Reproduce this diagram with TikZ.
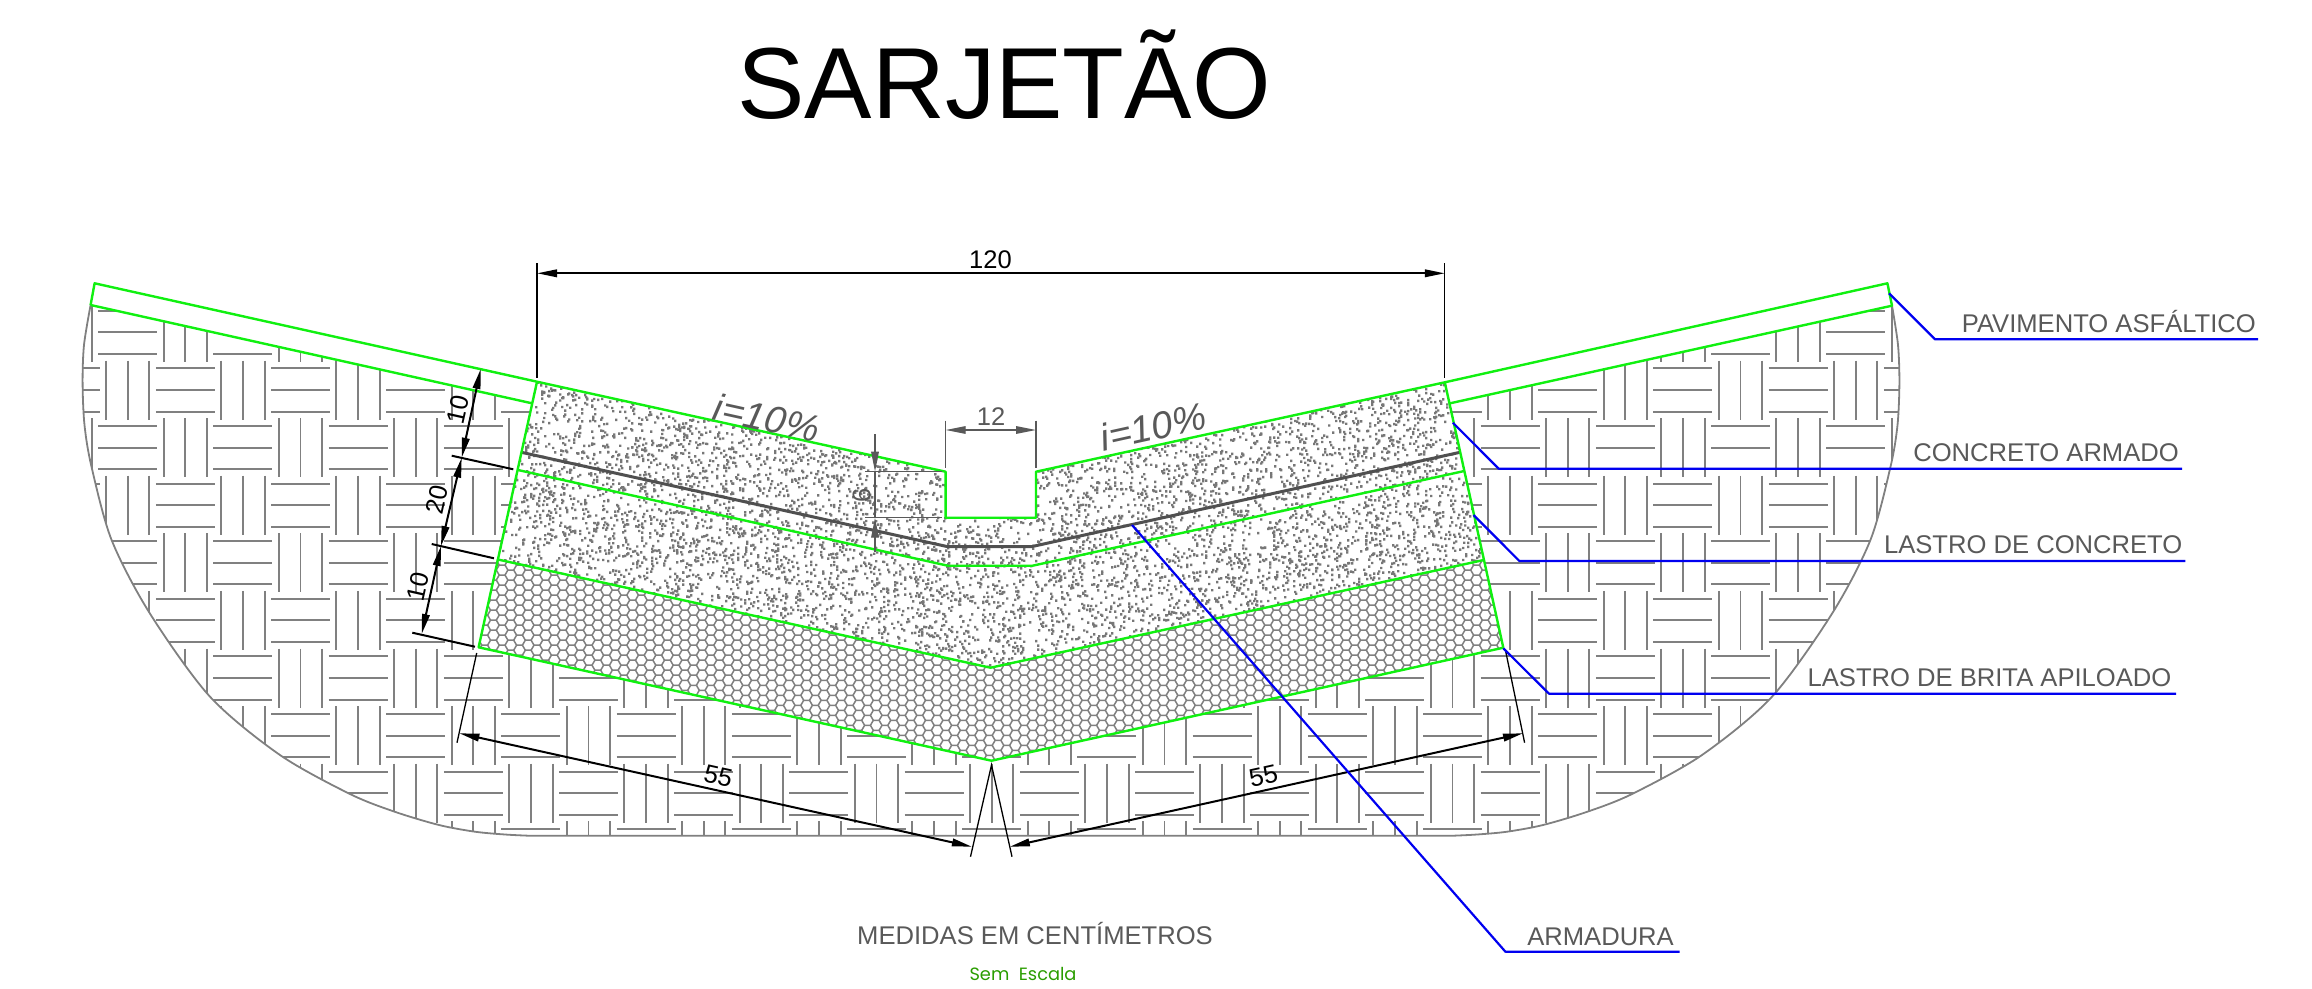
\documentclass[tikz,border=0pt]{standalone}
\usepackage{fontspec}
\setmainfont{Liberation Sans}
\newfontfamily\scalefont{Poppins}
\usetikzlibrary{arrows.meta,calc}
\definecolor{hatchgray}{HTML}{808080}
\definecolor{labelgray}{HTML}{595959}
\definecolor{dotgray}{HTML}{777777}
\definecolor{layergreen}{HTML}{10F010}
\definecolor{leaderblue}{HTML}{0000F0}
\definecolor{notegreen}{HTML}{2A9D00}
\newcommand{\soilleft}{(90.6,305)(84,345)(82.6,383)(84.5,425)(91.5,466.7)(111.6,540)(149.6,613)(210,696.7)(280,755)(350,794)(394.6,811.7)(439,825)(475,831.7)(505,834.5)(528.6,835.7)}
\newcommand{\soilright}{(1453.4,835.7)(1477,834.5)(1507,831.7)(1543,825)(1587.4,811.7)(1632,794)(1702,755)(1772,696.7)(1832.4,613)(1870.4,540)(1890.5,466.7)(1897.5,425)(1899.4,383)(1898,345)(1892,305.7)}
\tikzset{
  hatchline/.style={draw=hatchgray,line width=1.9pt},
  hexline/.style={draw=hatchgray,line width=1.5pt},
  layerline/.style={draw=layergreen,line width=2.4pt,line join=round},
  leader/.style={draw=leaderblue,line width=2.2pt,line join=round},
  dimline/.style={draw=black,line width=2pt,{Triangle[length=20pt,width=7.5pt]}-{Triangle[length=20pt,width=7.5pt]}},
  extline/.style={draw=black,line width=1.3pt},
  tickline/.style={draw=black,line width=2pt},
  graydim/.style={draw=labelgray,line width=1.4pt},
  graytip/.style={draw=labelgray,line width=1.4pt,-{Triangle[length=20pt,width=7.5pt]}},
  blackdigit/.style={text=black,font=\fontsize{25.5}{30}\selectfont,inner sep=0pt},
  graydigit/.style={text=labelgray,font=\fontsize{25.5}{30}\selectfont,inner sep=0pt},
  slopelabel/.style={text=labelgray,font=\itshape\fontsize{38}{42}\selectfont,inner sep=0pt},
  calllabel/.style={text=labelgray,font=\fontsize{25.6}{30}\selectfont,inner sep=0pt},
}
\begin{document}
\begin{tikzpicture}[x=1pt,y=-1pt]
\useasboundingbox (0,0) rectangle (2312,988);
% key points
\coordinate (pTL) at (94.6,283.3);
\coordinate (pBL) at (90.6,305);
\coordinate (cTL) at (537,381.7);
\coordinate (pML) at (532,403.3);
\coordinate (lL) at (518,470);
\coordinate (bL) at (497,559.3);
\coordinate (eL) at (478.6,647.3);
\coordinate (nTL) at (945.6,471.7);
\coordinate (nBL) at (945.6,517.7);
\coordinate (nBR) at (1036,517.7);
\coordinate (nTR) at (1036,471.7);
\coordinate (cTR) at (1444.8,382.3);
\coordinate (pMR) at (1450,403.3);
\coordinate (lR) at (1464.3,471);
\coordinate (bR) at (1483.8,560);
\coordinate (eR) at (1503.3,647.7);
\coordinate (pTR) at (1887.4,283.3);
\coordinate (pBR) at (1892,305.7);
\coordinate (bC) at (990.5,667.7);
\coordinate (eC) at (991.5,760.7);
\coordinate (aL) at (521.4,452.3);
\coordinate (a1) at (947.8,546.7);
\coordinate (a2) at (1031.3,546.7);
\coordinate (aR) at (1460,452.3);
\coordinate (lM1) at (947.8,565.7);
\coordinate (lM2) at (1032.6,565.7);
% soil hatch
\begin{scope}
\clip plot[smooth,tension=.5] coordinates {\soilleft} -- plot[smooth,tension=.5] coordinates {\soilright} -- (pBR) -- (pMR) -- (pML) -- (pBL) -- cycle;
\foreach \i in {-1,...,31}{
  \foreach \j in {-1,...,9}{
    \pgfmathsetmacro{\cx}{127.7+57.6*\i}
    \pgfmathsetmacro{\cy}{332.4+57.6*\j}
    \pgfmathtruncatemacro{\tilepar}{mod(abs(\i+\j),2)}
    \ifnum\tilepar=0
      \draw[hatchline] (\cx-29.5,\cy-21.6) -- (\cx+29.5,\cy-21.6) (\cx-29.5,\cy) -- (\cx+29.5,\cy) (\cx-29.5,\cy+21.6) -- (\cx+29.5,\cy+21.6);
    \else
      \draw[hatchline] (\cx-21.7,\cy-29.5) -- (\cx-21.7,\cy+29.5) (\cx,\cy-29.5) -- (\cx,\cy+29.5) (\cx+21.7,\cy-29.5) -- (\cx+21.7,\cy+29.5);
    \fi
  }
}
\end{scope}
\draw[hatchline,line width=1.8pt] plot[smooth,tension=.5] coordinates {\soilleft} -- plot[smooth,tension=.5] coordinates {\soilright};
% white body
\fill[white] (pTL) -- (cTL) -- (cTR) -- (pTR) -- (pBR) -- (pMR) -- (eR) -- (eC) -- (eL) -- (pML) -- (pBL) -- cycle;
% concrete stipple
\begin{scope}
\clip (cTL) -- (nTL) -- (nBL) -- (nBR) -- (nTR) -- (cTR) -- (bR) -- (bC) -- (bL) -- cycle;
\pgfsetfillcolor{dotgray}
\pgfmathsetseed{7}
\foreach \b in {1,...,70}{
  \foreach \k in {1,...,100}{
    \pgfmathrandominteger{\px}{480}{1500}
    \pgfmathrandominteger{\pd}{0}{190}
    \pgfmathsetmacro{\py}{481-0.2205*abs(\px-991)+\pd}
    \pgfpathrectangle{\pgfqpoint{\px pt}{-\py pt}}{\pgfqpoint{2.4pt}{2.4pt}}
  }
  \pgfusepath{fill}
}
\end{scope}
% crushed stone hexagons
\begin{scope}
\clip (bL) -- (bC) -- (bR) -- (eR) -- (eC) -- (eL) -- cycle;
\foreach \i in {0,...,120}{
  \pgfmathtruncatemacro{\colodd}{mod(\i,2)}
  \pgfmathsetmacro{\hx}{476+8.7*\i}
  \pgfmathsetmacro{\hy}{555+10.02*round((667.7-0.2205*abs(\hx-991)-10-555)/10.02)+5*\colodd}
  \draw[hexline] \foreach \j in {0,...,11} { (\hx-5.8,\hy+10.02*\j) -- ++(2.9,-5.01) -- ++(5.8,0) -- ++(2.9,5.01) };
}
\end{scope}
% reinforcement
\draw[draw=labelgray!90!black,line width=3pt,line join=round] (aL) -- (a1) -- (a2) -- (aR);
% green layer lines
\draw[extline,line width=1pt] (480.7,369) -- (cTL);
\draw[layerline] (pBL) -- (pTL) -- (cTL) -- (nTL) -- (nBL) -- (nBR) -- (nTR) -- (cTR) -- (pTR) -- (pBR) -- (pMR);
\draw[layerline] (pBL) -- (pML);
\draw[layerline] (cTL) -- (eL) -- (eC) -- (eR) -- (cTR);
\draw[layerline] (lL) -- (lM1) -- (lM2) -- (lR);
\draw[layerline] (bL) -- (bC) -- (bR);
% top dimension 120
\coordinate (d120a) at (537,273.3);
\coordinate (d120b) at (1444.8,273.3);
\draw[extline] (537,263) -- (537,377.7);
\draw[extline] (1444.8,263) -- (1444.8,377.7);
\draw[dimline] (d120a) -- (d120b);
\node[blackdigit] (t120) at (990.5,259.5) {120};
% left stacked dimensions
\coordinate (s0) at (480.7,369);
\coordinate (s1) at (461.7,457.7);
\coordinate (s2) at (441,546);
\coordinate (s3) at (421.7,634);
\draw[tickline] (451.7,455.7) -- (513.3,469.3);
\draw[tickline] (431.7,544) -- (494,558.3);
\draw[tickline] (412.3,632.7) -- (475,646.7);
\draw[dimline] (s0) -- (s1);
\draw[dimline] (s1) -- (s2);
\draw[dimline] (s2) -- (s3);
\node[blackdigit,rotate=77.4] (t10a) at (458.3,409.3) {10};
\node[blackdigit,rotate=77.4] (t20) at (437.3,499.3) {20};
\node[blackdigit,rotate=77.4] (t10b) at (418.3,586.7) {10};
% bottom dimensions
\coordinate (b1) at (459.4,733.3);
\coordinate (b2) at (971.9,846.7);
\coordinate (b3) at (1009.8,846.7);
\coordinate (b4) at (1523,733.3);
\coordinate (apex) at (991.5,765);
\draw[extline] (476.7,653) -- (457,742.7);
\draw[extline] (1505.4,650) -- (1524.6,742.7);
\draw[extline] (970.5,856.7) -- (apex) -- (1012,856.7);
\draw[dimline] (b1) -- (b2);
\draw[dimline] (b3) -- (b4);
\node[blackdigit,rotate=-12.5] (t55a) at (718.3,776) {55};
\node[blackdigit,rotate=12.5] (t55b) at (1263.4,776) {55};
% gutter dimensions
\draw[graydim] (945.7,420.7) -- (945.7,468);
\draw[graydim] (1036,420.7) -- (1036,468);
\draw[graydim,{Triangle[length=20pt,width=7.5pt]}-{Triangle[length=20pt,width=7.5pt]}] (945.7,430) -- (1036,430);
\node[graydigit] (t12) at (991,417) {12};
\draw[graydim] (865,471.7) -- (941.7,471.7);
\draw[graydim] (865,517.7) -- (941.7,517.7);
\draw[graydim] (875,471.7) -- (875,517.7);
\draw[graytip] (875,434) -- (875,471.7);
\draw[graytip] (875,551.7) -- (875,517.7);
\node[graydigit,rotate=90] (t6) at (861.7,495) {6};
% slopes
\node[slopelabel,rotate=-12.4] (iL) at (767,418) {i=10\%};
\node[slopelabel,rotate=12.4] (iR) at (1153,426.7) {i=10\%};
% leaders
\draw[leader] (1889,293.3) -- (1935,339.3) -- (2258.2,339.3);
\draw[leader] (1452.8,422.7) -- (1498.7,468.7) -- (2182,468.7);
\draw[leader] (1473.5,515) -- (1519.4,561) -- (2185.3,561);
\draw[leader] (1503.3,648.3) -- (1549,693.7) -- (2176,693.7);
\draw[leader] (1132,525) -- (1505.4,951.7) -- (1679.5,951.7);
% labels
\node[calllabel,anchor=base east] (lbPav) at (2256,332.7) {PAVIMENTO ASFÁLTICO};
\node[calllabel,anchor=base east] (lbCon) at (2179,461.7) {CONCRETO ARMADO};
\node[calllabel,anchor=base east] (lbLas) at (2182.5,553.3) {LASTRO DE CONCRETO};
\node[calllabel,anchor=base east] (lbBri) at (2171.5,686.7) {LASTRO DE BRITA APILOADO};
\node[calllabel,anchor=base east] (lbArm) at (1674,945) {ARMADURA};
\node[calllabel,anchor=base] (lbMed) at (1035,944.3) {MEDIDAS EM CENTÍMETROS};
\node[text=notegreen,font=\scalefont\fontsize{17.8}{20}\selectfont,inner sep=0pt,anchor=base] (lbSem) at (1023,980) {Sem\ \ Escala};
\node[font=\fontsize{101}{110}\selectfont,inner sep=0pt,anchor=base] (title) at (1004,118.3) {SARJETÃO};
\end{tikzpicture}
\end{document}
